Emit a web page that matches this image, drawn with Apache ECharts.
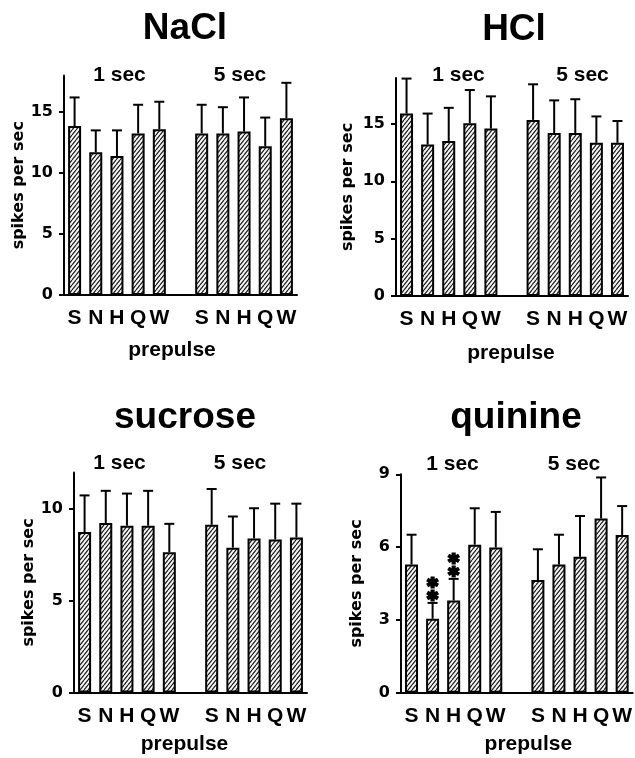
<!DOCTYPE html>
<html><head><meta charset="utf-8">
<script src="https://cdn.jsdelivr.net/npm/echarts@6/dist/echarts.min.js"></script>
<style>html,body{margin:0;padding:0;background:#fff}#c{width:635px;height:758px}</style>
</head><body><div id="c"></div>
<script>
// ---- data ----
const categories = ['S','N','H','Q','W','','S','N','H','Q','W'];
const groupLabels = ['1 sec','5 sec'];
const panelNames = ['NaCl','HCl','sucrose','quinine'];
const yAxisTitle = 'spikes per sec';
const xAxisTitle = 'prepulse';

const naclMean = [13.85, 11.7, 11.4, 13.25, 13.6, null, 13.25, 13.25, 13.4, 12.2, 14.5];
const naclSem  = [2.35, 1.8, 2.1, 2.35, 2.25, null, 2.35, 2.15, 2.8, 2.35, 2.9];
const naclTicks = [0, 5, 10, 15];

const hclMean = [15.9, 13.2, 13.5, 15.05, 14.6, null, 15.35, 14.2, 14.2, 13.35, 13.35];
const hclSem  = [3.05, 2.7, 2.9, 2.9, 2.8, null, 3.1, 2.85, 2.95, 2.3, 1.9];
const hclTicks = [0, 5, 10, 15];

const sucroseMean = [8.75, 9.25, 9.1, 9.1, 7.65, null, 9.15, 7.9, 8.4, 8.35, 8.45];
const sucroseSem  = [2.0, 1.75, 1.75, 1.9, 1.55, null, 1.95, 1.7, 1.65, 1.95, 1.85];
const sucroseTicks = [0, 5, 10];

const quinineMean = [5.28, 3.05, 3.8, 6.1, 5.98, null, 4.64, 5.28, 5.6, 7.18, 6.5];
const quinineSem  = [1.23, 0.65, 0.89, 1.5, 1.47, null, 1.27, 1.23, 1.68, 1.69, 1.19];
const quinineTicks = [0, 3, 6, 9];
const quinineSig = ['', '**', '**', '', '', '', '', '', '', '', ''];

// ---- style / layout ----
const FONT = "'Liberation Sans', Arial, sans-serif";
const NARROW = "'Liberation Sans Narrow', 'Arial Narrow', 'Liberation Sans', Arial, sans-serif";
function hatch() {
  const w = 4, h = 5;
  const c = document.createElement('canvas'); c.width = w; c.height = h;
  const g = c.getContext('2d');
  g.fillStyle = '#f4f4f4'; g.fillRect(0, 0, w, h);
  g.strokeStyle = '#1a1a1a'; g.lineWidth = 1.15;
  g.beginPath();
  for (let s = -w; s <= w; s += w) { g.moveTo(s, h); g.lineTo(s + w, 0); }
  g.stroke();
  return c;
}
const pattern = { image: hatch(), repeat: 'repeat' };

const panels = [
  { mean: naclMean, sem: naclSem, ticks: naclTicks, max: 18, sig: null,
    grid: { left: 64, top: 75.5, width: 233, height: 219.5 }, nameGap: 33, xGap: 45, xPad: [0, 17, 0, 0],
    title: [185, 28.5], secX: [119.5, 240], secY: 75.5 },
  { mean: hclMean, sem: hclSem, ticks: hclTicks, max: 19, sig: null,
    grid: { left: 396, top: 78, width: 232, height: 218 }, nameGap: 40, xGap: 47, xPad: [0, 2, 0, 0],
    title: [514, 29.5], secX: [458.5, 582.5], secY: 75.5 },
  { mean: sucroseMean, sem: sucroseSem, ticks: sucroseTicks, max: 12, sig: null,
    grid: { left: 74, top: 472.5, width: 233, height: 220 }, nameGap: 37.5, xGap: 41, xPad: [0, 12, 0, 0],
    title: [185, 418], secX: [119.5, 240], secY: 463.5 },
  { mean: quinineMean, sem: quinineSem, ticks: quinineTicks, max: 9, sig: quinineSig,
    grid: { left: 401, top: 474.3, width: 233, height: 218.4 }, nameGap: 36, xGap: 41, xPad: [0, 0, 0, 23],
    title: [516, 418], secX: [452.5, 574], secY: 464 }
];

// two stacked six-armed asterisks (arm half-width 2)
const starPath = 'path://' +
  'M-2 -6L2 -6L2 6L-2 6Z' +
  'M-6.196 -1.268L-4.196 -4.732L6.196 1.268L4.196 4.732Z' +
  'M4.196 -4.732L6.196 -1.268L-4.196 4.732L-6.196 1.268Z' +
  'M-2 7L2 7L2 19L-2 19Z' +
  'M-6.196 11.732L-4.196 8.268L6.196 14.268L4.196 17.732Z' +
  'M4.196 8.268L6.196 11.732L-4.196 17.732L-6.196 14.268Z';

function renderErr(params, api) {
  const x = api.value(0), lo = api.value(1), hi = api.value(2);
  const p0 = api.coord([x, lo]);
  const p1 = api.coord([x, hi]);
  const cap = 5;
  return {
    type: 'group',
    children: [
      { type: 'line', shape: { x1: p0[0], y1: p0[1], x2: p1[0], y2: p1[1] }, style: { stroke: '#000', lineWidth: 2 } },
      { type: 'line', shape: { x1: p1[0] - cap, y1: p1[1], x2: p1[0] + cap, y2: p1[1] }, style: { stroke: '#000', lineWidth: 2 } }
    ]
  };
}

const grid = [], xAxis = [], yAxis = [], series = [], graphic = [];
panels.forEach((p, i) => {
  grid.push(Object.assign({ containLabel: false }, p.grid));
  xAxis.push({
    type: 'category', gridIndex: i, data: categories,
    axisLine: { lineStyle: { color: '#000', width: 2 } },
    axisTick: { alignWithLabel: true, length: 9, interval: (idx) => categories[idx] !== '',
      lineStyle: { color: '#000', width: 1.5 } },
    axisLabel: { interval: 0, margin: 13, color: '#000', fontFamily: NARROW, fontWeight: 'bold', fontSize: 21 },
    name: xAxisTitle, nameLocation: 'middle', nameGap: p.xGap,
    nameTextStyle: { color: '#000', fontFamily: FONT, fontWeight: 'bold', fontSize: 21, padding: p.xPad }
  });
  yAxis.push({
    type: 'value', gridIndex: i, min: 0, max: p.max,
    axisLine: { show: true, lineStyle: { color: '#000', width: 2 } },
    axisTick: { show: true, length: 5, customValues: p.ticks, lineStyle: { color: '#000', width: 2 } },
    axisLabel: { customValues: p.ticks, margin: 11, color: '#000', fontFamily: "'DejaVu Sans', sans-serif", fontWeight: 'bold', fontSize: 16 },
    splitLine: { show: false },
    name: yAxisTitle, nameLocation: 'middle', nameGap: p.nameGap,
    nameTextStyle: { color: '#000', fontFamily: "'DejaVu Sans', sans-serif", fontWeight: 'bold', fontSize: 16 }
  });
  series.push({
    type: 'bar', xAxisIndex: i, yAxisIndex: i, data: p.mean, barWidth: 13, z: 2,
    itemStyle: { color: pattern, borderColor: '#000', borderWidth: 2 }
  });
  const errData = [];
  p.mean.forEach((m, k) => { if (m != null) errData.push([k, m, +(m + p.sem[k]).toFixed(3)]); });
  series.push({
    type: 'custom', xAxisIndex: i, yAxisIndex: i, data: errData, renderItem: renderErr, z: 3,
    encode: { x: 0, y: [1, 2] }
  });
  if (p.sig) {
    const sigData = [];
    p.sig.forEach((s, k) => { if (s) sigData.push([k, p.mean[k] + p.sem[k]]); });
    series.push({
      type: 'scatter', xAxisIndex: i, yAxisIndex: i, data: sigData, z: 4,
      symbol: starPath, symbolSize: [13, 25], symbolOffset: [0, -14],
      itemStyle: { color: '#000', opacity: 1 }, silent: true
    });
  }
  graphic.push({
    type: 'text', x: p.title[0], y: p.title[1],
    style: { text: panelNames[i], fill: '#000', fontFamily: FONT, fontWeight: 'bold', fontSize: 37,
      align: 'center', verticalAlign: 'middle', textAlign: 'center', textVerticalAlign: 'middle' }
  });
  groupLabels.forEach((g, j) => {
    graphic.push({
      type: 'text', x: p.secX[j], y: p.secY,
      style: { text: g, fill: '#000', fontFamily: FONT, fontWeight: 'bold', fontSize: 21,
        align: 'center', verticalAlign: 'middle', textAlign: 'center', textVerticalAlign: 'middle' }
    });
  });
});

const chart = echarts.init(document.getElementById('c'), null, { renderer: 'canvas' });
chart.setOption({ animation: false, backgroundColor: '#fff', grid, xAxis, yAxis, series, graphic });
</script>
</body></html>
